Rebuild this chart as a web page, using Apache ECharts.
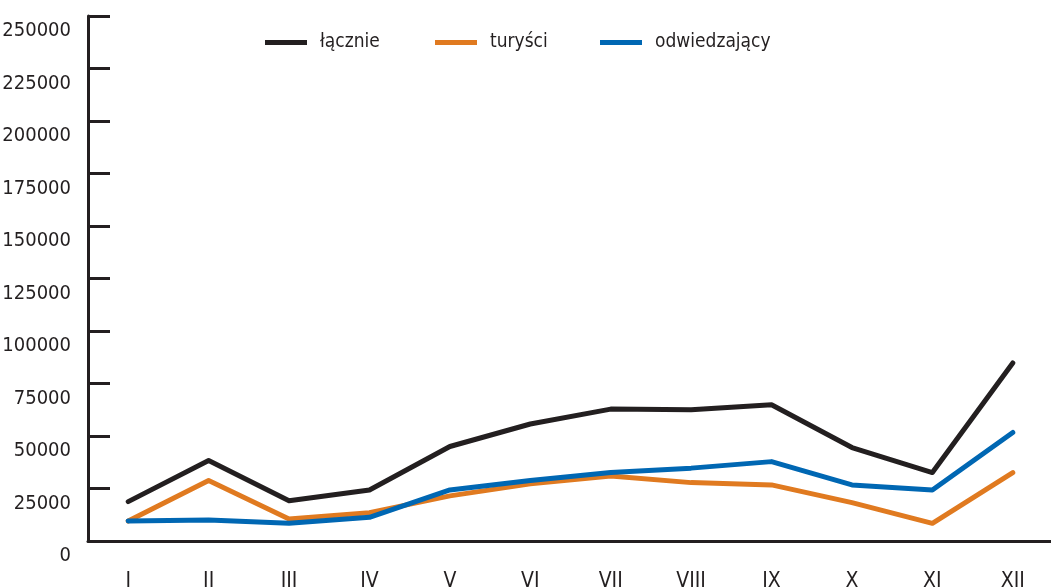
<!DOCTYPE html>
<html>
<head>
<meta charset="utf-8">
<script src="https://cdn.jsdelivr.net/npm/echarts@6/dist/echarts.min.js"></script>
<style>
  html, body { margin: 0; padding: 0; background: #fff; }
  #chart { width: 1051px; height: 588px; }
</style>
</head>
<body>
<div id="chart"></div>
<script>
const months = ['I', 'II', 'III', 'IV', 'V', 'VI', 'VII', 'VIII', 'IX', 'X', 'XI', 'XII']
const lacznie = [18750, 38300, 19200, 24300, 45000, 55700, 62800, 62500, 64900, 44500, 32600, 84800]
const turysci = [9500, 28800, 10500, 13500, 21500, 27200, 31000, 27800, 26700, 18300, 8400, 32600]
const odwiedzajacy = [9500, 10000, 8400, 11300, 24300, 28800, 32600, 34700, 37800, 26700, 24300, 51700]

const ink = '#231f20'
const font = '"DejaVu Sans Condensed", "Liberation Sans Narrow", sans-serif'

const chart = echarts.init(document.getElementById('chart'))

const makeLine = (name, data, color) => ({
  name,
  type: 'line',
  data,
  showSymbol: false,
  symbol: 'none',
  lineStyle: { width: 5, color, cap: 'round', join: 'round' },
  itemStyle: { color }
})

// one legend per entry so each sits where the original puts it
const makeLegend = (name, left) => ({
  data: [name],
  left,
  top: 33,
  padding: 0,
  icon: 'rect',
  itemWidth: 42,
  itemHeight: 5,
  textStyle: { fontSize: 19, color: ink, fontFamily: font, padding: [0, 0, 0, 8] }
})

chart.setOption({
  animation: false,
  textStyle: { fontFamily: font, color: ink },
  legend: [
    makeLegend('łącznie', 265),
    makeLegend('turyści', 435),
    makeLegend('odwiedzający', 600)
  ],
  grid: { left: 88, top: 16, width: 965, height: 525, containLabel: false, outerBoundsMode: 'none' },
  xAxis: {
    type: 'category',
    data: months,
    boundaryGap: true,
    axisLine: { lineStyle: { color: ink, width: 3 } },
    axisTick: { inside: true, length: 12, lineStyle: { color: ink, width: 3 } },
    axisLabel: { fontSize: 21, color: ink, margin: 30, lineHeight: 22, fontFamily: font },
    splitLine: { show: false }
  },
  yAxis: {
    type: 'value',
    min: 0,
    max: 250000,
    interval: 25000,
    axisLine: { show: true, lineStyle: { color: ink, width: 3 } },
    axisTick: { show: true, inside: true, length: 22, lineStyle: { color: ink, width: 3 } },
    axisLabel: {
      fontSize: 20,
      color: ink,
      margin: 17,
      verticalAlign: 'top',
      lineHeight: 30,
      fontFamily: font,
      formatter: v => String(v)
    },
    splitLine: { show: false }
  },
  series: [
    makeLine('łącznie', lacznie, '#231f20'),
    makeLine('turyści', turysci, '#e07a20'),
    makeLine('odwiedzający', odwiedzajacy, '#0067b3')
  ]
})
</script>
</body>
</html>
